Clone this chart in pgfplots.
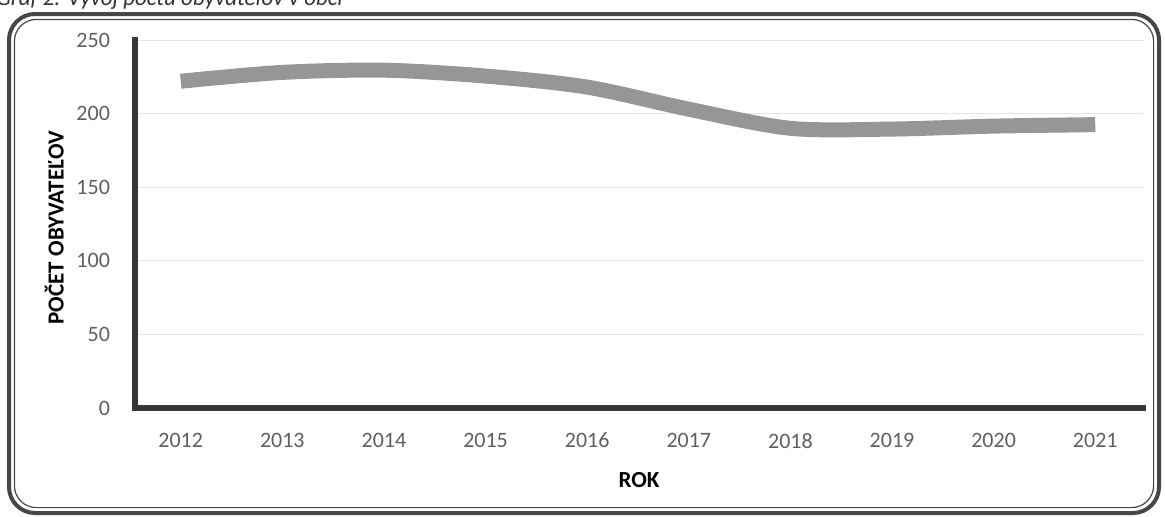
\documentclass[border=0pt]{standalone}
\usepackage{pgfplots}
\pgfplotsset{compat=1.18}
\usepackage{fontspec}
\setmainfont{Carlito}

\definecolor{linegray}{RGB}{150,150,150}
\definecolor{axisdark}{RGB}{55,55,55}
\definecolor{ticktext}{RGB}{95,95,95}
\definecolor{gridc}{RGB}{228,228,228}
\definecolor{framec}{RGB}{70,70,70}

\begin{document}
\begin{tikzpicture}
\useasboundingbox (0,0) rectangle (582.5pt,258pt);
% frame round the chart
\draw[line width=2pt, color=framec, rounded corners=13pt] (4.5pt,1.5pt) rectangle (579.5pt,251pt);
\draw[line width=0.6pt, color=framec, rounded corners=11pt] (7.2pt,4.2pt) rectangle (576.8pt,248.3pt);
% caption, cut off by the page edge as in the scan
\node[anchor=base west, inner sep=0pt, text=black!80,
      font=\itshape\fontsize{11.5}{13}\selectfont] at (-2pt,255.5pt)
      {Graf 2: Vývoj počtu obyvateľov v obci};

\begin{axis}[
    at={(67.5pt,54pt)}, anchor=south west,
    scale only axis, width=504pt, height=184pt,
    xmin=2011.55, xmax=2021.47,
    ymin=0, ymax=250,
    axis x line*=bottom, axis y line*=left,
    axis line style={line width=2.8pt, color=axisdark, line cap=rect},
    xtick={2012,2013,...,2021},
    ytick={0,50,...,250},
    major tick length=0pt,
    ymajorgrids,
    grid style={gridc, line width=0.5pt},
    /pgf/number format/assume math mode=true,
    x tick label style={/pgf/number format/1000 sep={}, yshift=-9pt},
    y tick label style={xshift=-9pt},
    tick label style={font=\fontsize{11}{13}\selectfont, text=ticktext},
    ylabel={POČET OBYVATEĽOV},
    xlabel={ROK},
    label style={font=\bfseries\fontsize{11.5}{13}\selectfont, text=black},
    y label style={at={(axis description cs:-0.08,0.49)}, anchor=center},
    x label style={at={(axis description cs:0.5,-0.196)}, anchor=center},
]
\addplot[smooth, tension=0.5, line width=7.5pt, color=linegray, line cap=butt] coordinates {
(2012,222) (2013,228) (2014,229.5) (2015,225.5) (2016,218)
(2017,203) (2018,190) (2019,189.5) (2020,191.5) (2021,192.5)
};
\end{axis}
\end{tikzpicture}
\end{document}
